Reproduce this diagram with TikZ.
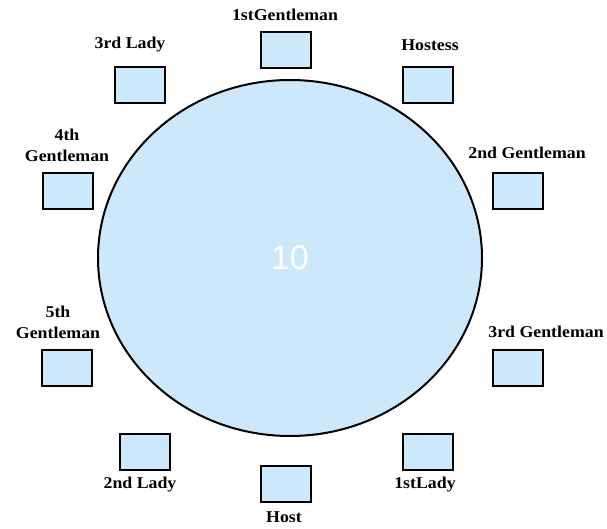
\documentclass[tikz,border=0pt]{standalone}
\usepackage{fontspec}
\setmainfont{Liberation Serif}
\newfontfamily\numfont{Liberation Sans}
\usetikzlibrary{shapes.geometric}
\definecolor{seatblue}{RGB}{204,232,250}
\begin{document}
\begin{tikzpicture}[x=1pt,y=-1pt,
  seat/.style={draw=black, line width=2pt, fill=seatblue, minimum width=50pt, minimum height=36pt, inner sep=0pt},
  lbl/.style={font=\fontsize{16.5}{21}\selectfont\bfseries, align=center, inner sep=0pt, xscale=1.08},
  tablestyle/.style={ellipse, draw=black, line width=2pt, fill=seatblue, minimum width=384pt, minimum height=356pt, inner sep=0pt, text=white, font=\numfont\fontsize{34}{34}\selectfont}]
\useasboundingbox (0,0) rectangle (607,529);
\node[tablestyle] (table) at (290,258) {10};
% seats
\node[seat] (s1g) at (286,50.5) {};
\node[seat] (s3l) at (140,85.5) {};
\node[seat] (shs) at (428,85.5) {};
\node[seat] (s4g) at (67.5,191.5) {};
\node[seat] (s2g) at (517.5,191.5) {};
\node[seat] (s5g) at (67,367.5) {};
\node[seat] (s3g) at (517.5,367.5) {};
\node[seat] (s2l) at (144.5,452) {};
\node[seat] (sho) at (285.5,483.5) {};
\node[seat] (s1l) at (428,452) {};
% labels
\node[lbl] (l1g) at (285,15) {1stGentleman};
\node[lbl] (l3l) at (130,45) {3rd Lady};
\node[lbl] (lhs) at (430,45) {Hostess};
\node[lbl] (l4g) at (67,145) {4th\\Gentleman};
\node[lbl] (l2g) at (527,153) {2nd Gentleman};
\node[lbl] (l5g) at (58,322.5) {5th\\Gentleman};
\node[lbl] (l3g) at (546,332) {3rd Gentleman};
\node[lbl] (l2l) at (140,485) {2nd Lady};
\node[lbl] (lho) at (284,517) {Host};
\node[lbl] (l1l) at (425,485) {1stLady};
\end{tikzpicture}
\end{document}
